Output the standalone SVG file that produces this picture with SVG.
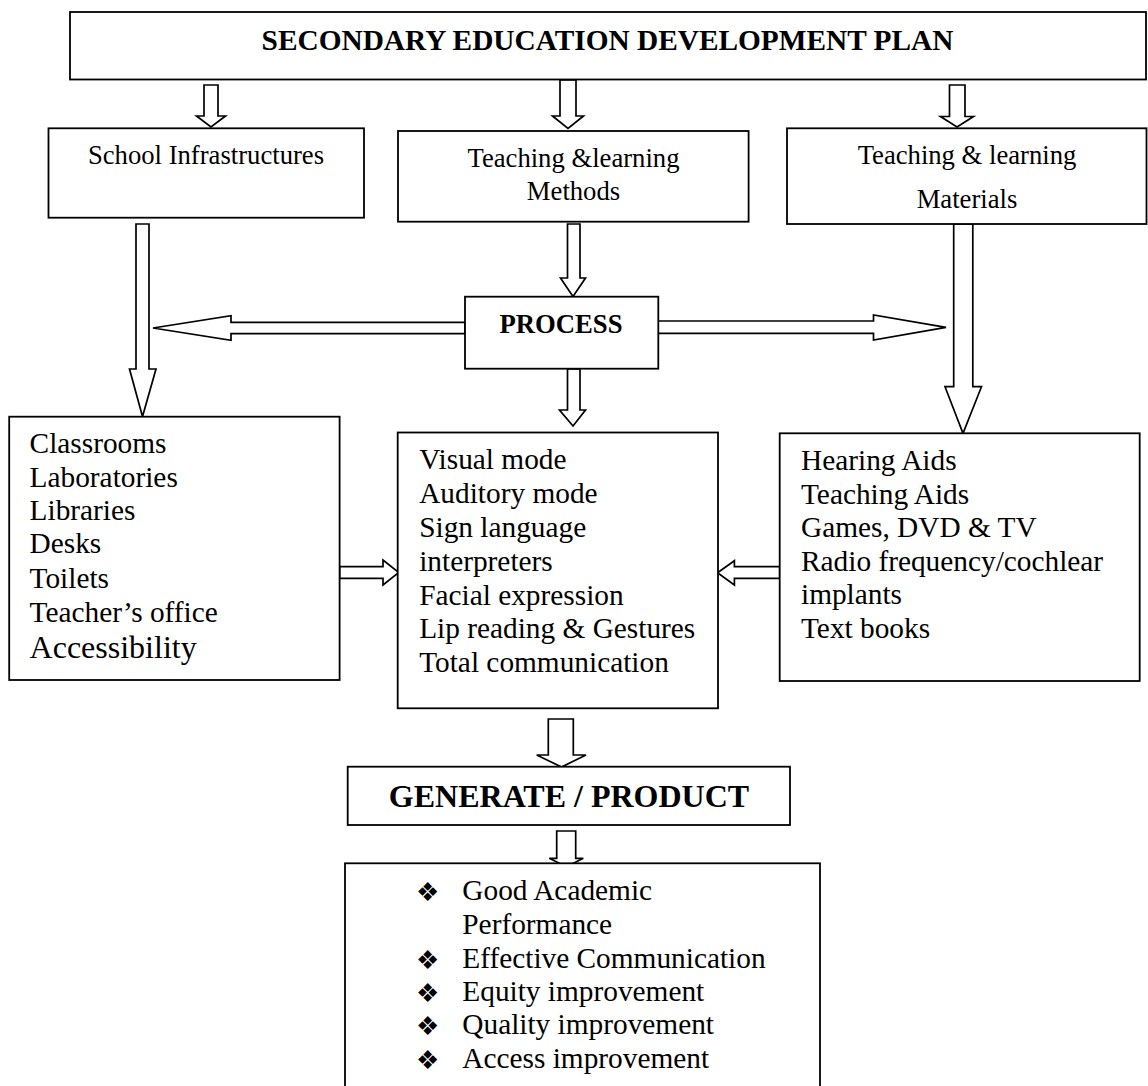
<svg xmlns="http://www.w3.org/2000/svg" width="1148" height="1086" viewBox="0 0 1148 1086">
<style>
.box{fill:#fff;stroke:#000;stroke-width:1.8}
.arr{fill:#fff;stroke:#000;stroke-width:1.7;stroke-linejoin:miter}
.t{font-family:"Liberation Serif","Times New Roman",serif;fill:#000}
.b{font-weight:bold}
.s20{font-size:26.67px}
.s22{font-size:29.33px}
.s24{font-size:32px}
.bul{font-family:"DejaVu Sans",sans-serif;font-size:26px;fill:#000}
</style>
<rect width="1148" height="1086" fill="#fff"/>
<g id="connectors">
<polygon class="arr" points="204,85 218,85 218,116 225.5,116 211,127 196.5,116 204,116"/>
<polygon class="arr" points="560,80 576,80 576,116 583.5,116 568,128.5 552.5,116 560,116"/>
<polygon class="arr" points="949.5,85 965,85 965,116.5 973.5,116.5 957,127 940.5,116.5 949.5,116.5"/>
<polygon class="arr" points="136,224 149,224 149,369 156,369 142.5,416.5 129.5,369 136,369"/>
<polygon class="arr" points="567.5,224 580,224 580,278 585.5,278 573,296.5 560.5,278 567.5,278"/>
<polygon class="arr" points="465,322.3 231,322.3 231,315.7 153,328 231,340.3 231,333.7 465,333.7"/>
<polygon class="arr" points="658,321 873.5,321 873.5,315 946,327.3 873.5,340 873.5,333.3 658,333.3"/>
<polygon class="arr" points="567.5,369 580,369 580,410 585.5,410 573,426 559.5,410 567.5,410"/>
<polygon class="arr" points="953.7,224 972.8,224 972.8,386.7 981.5,386.7 963,433.3 945,386.7 953.7,386.7"/>
<polygon class="arr" points="339.6,566.7 383,566.7 383,560 398.8,572.5 383,585 383,578.3 339.6,578.3"/>
<polygon class="arr" points="779.7,566.7 734.4,566.7 734.4,560.7 717.5,572.7 734.4,585 734.4,578.3 779.7,578.3"/>
<polygon class="arr" points="548.3,719 573.3,719 573.3,755 586,755 561.5,767 536.7,755 548.3,755"/>
<polygon class="arr" points="556.7,831 575.7,831 575.7,858.3 583.3,858.3 566.5,866.7 549.3,858.3 556.7,858.3"/>
</g>
<g id="plan">
<rect class="box" x="70" y="12" width="1076" height="67.5"/>
<text class="t b s22" x="607.5" y="50" text-anchor="middle">SECONDARY EDUCATION DEVELOPMENT PLAN</text>
</g>
<g id="infrastructures">
<rect class="box" x="48.5" y="128.3" width="315.5" height="89.4"/>
<text class="t s20" x="206" y="164" text-anchor="middle">School Infrastructures</text>
</g>
<g id="methods">
<rect class="box" x="398" y="131" width="350.6" height="90.7"/>
<text class="t s20" x="573.5" y="166.7" text-anchor="middle">Teaching &amp;learning</text>
<text class="t s20" x="573.5" y="200" text-anchor="middle">Methods</text>
</g>
<g id="materials">
<rect class="box" x="787" y="128.3" width="359.5" height="95.7"/>
<text class="t s20" x="967" y="164.3" text-anchor="middle">Teaching &amp; learning</text>
<text class="t s20" x="967" y="208.3" text-anchor="middle">Materials</text>
</g>
<g id="process">
<rect class="box" x="465" y="296.7" width="193.3" height="72"/>
<text class="t b s20" x="561" y="332.7" text-anchor="middle">PROCESS</text>
</g>
<g id="infra-list">
<rect class="box" x="9.2" y="416.7" width="330.4" height="263.3"/>
<text class="t s22" x="29.6" y="453.3">Classrooms</text>
<text class="t s22" x="29.6" y="486.7">Laboratories</text>
<text class="t s22" x="29.6" y="520">Libraries</text>
<text class="t s22" x="29.6" y="553.3">Desks</text>
<text class="t s22" x="29.6" y="587.7">Toilets</text>
<text class="t s22" x="29.6" y="621.7">Teacher’s office</text>
<text class="t s24" x="29.6" y="658.3">Accessibility</text>
</g>
<g id="method-list">
<rect class="box" x="397.7" y="432.5" width="320.3" height="275.8"/>
<text class="t s22" x="419.2" y="469.3">Visual mode</text>
<text class="t s22" x="419.2" y="503.1">Auditory mode</text>
<text class="t s22" x="419.2" y="536.9">Sign language</text>
<text class="t s22" x="419.2" y="570.7">interpreters</text>
<text class="t s22" x="419.2" y="604.5">Facial expression</text>
<text class="t s22" x="419.2" y="638.3">Lip reading &amp; Gestures</text>
<text class="t s22" x="419.2" y="672.1">Total communication</text>
</g>
<g id="material-list">
<rect class="box" x="779.7" y="433.3" width="360" height="247.7"/>
<text class="t s22" x="801" y="470">Hearing Aids</text>
<text class="t s22" x="801" y="503.5">Teaching Aids</text>
<text class="t s22" x="801" y="537">Games, DVD &amp; TV</text>
<text class="t s22" x="801" y="570.5">Radio frequency/cochlear</text>
<text class="t s22" x="801" y="604">implants</text>
<text class="t s22" x="801" y="637.5">Text books</text>
</g>
<g id="generate">
<rect class="box" x="347.7" y="766.7" width="442.3" height="58.3"/>
<text class="t b s24" x="569" y="807.3" text-anchor="middle">GENERATE / PRODUCT</text>
</g>
<g id="outcomes">
<rect class="box" x="345" y="863.3" width="475" height="240"/>
<text class="bul" x="416" y="901">❖</text>
<text class="t s22" x="462.3" y="900">Good Academic</text>
<text class="t s22" x="462.3" y="934">Performance</text>
<text class="bul" x="416" y="968.7">❖</text>
<text class="t s22" x="462.3" y="967.7">Effective Communication</text>
<text class="bul" x="416" y="1002">❖</text>
<text class="t s22" x="462.3" y="1001">Equity improvement</text>
<text class="bul" x="416" y="1035.3">❖</text>
<text class="t s22" x="462.3" y="1034.3">Quality improvement</text>
<text class="bul" x="416" y="1069.3">❖</text>
<text class="t s22" x="462.3" y="1068.3">Access improvement</text>
</g>
</svg>
